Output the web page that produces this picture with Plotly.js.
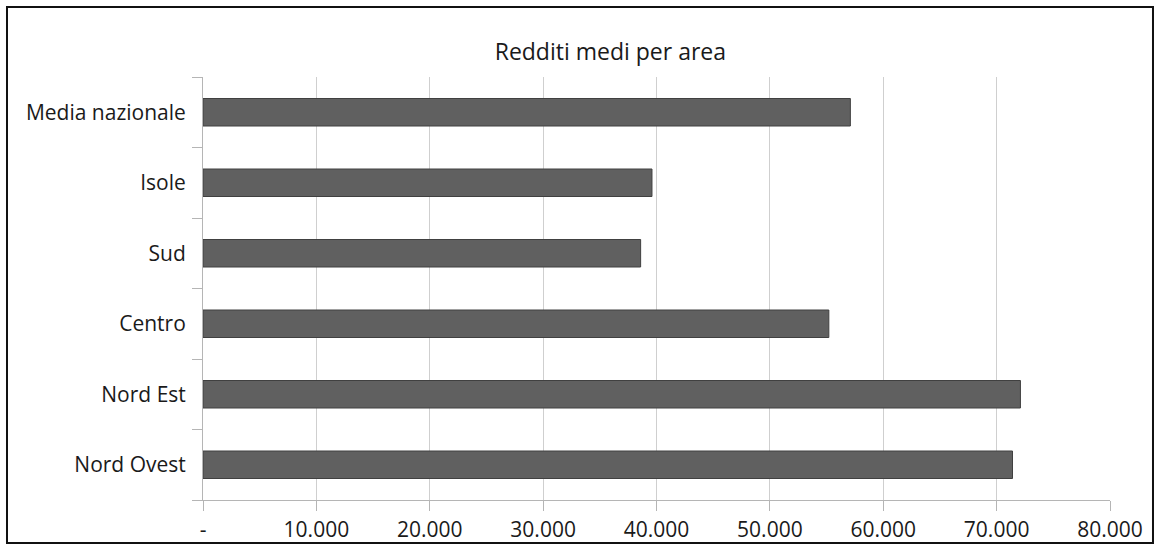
<!DOCTYPE html>
<html>
<head>
<meta charset="utf-8">
<script src="https://cdn.plot.ly/plotly-3.0.1.min.js"></script>
<style>html,body{margin:0;padding:0;background:#fff;}#chart{width:1156px;height:547px;}</style>
</head>
<body>
<div id="chart"></div>
<script>
const categories = ["Nord Ovest", "Nord Est", "Centro", "Sud", "Isole", "Media nazionale"];
const redditi = [71400, 72100, 55200, 38600, 39600, 57100];
const xTickVals = [0, 10000, 20000, 30000, 40000, 50000, 60000, 70000, 80000];
const xTickText = ["-", "10.000", "20.000", "30.000", "40.000", "50.000", "60.000", "70.000", "80.000"];
const chartTitle = "Redditi medi per area";

const FONT = "'Open Sans', Lato, sans-serif";

const trace = {
  type: "bar",
  orientation: "h",
  y: categories,
  x: redditi,
  marker: { color: "#606060", line: { color: "#404040", width: 1 } },
  hoverinfo: "x+y"
};

const layout = {
  width: 1156,
  height: 547,
  margin: { l: 203, r: 46, t: 77, b: 47 },
  paper_bgcolor: "#ffffff",
  plot_bgcolor: "#ffffff",
  showlegend: false,
  bargap: 0.61,
  font: { family: FONT, color: "#1a1a1a", size: 20 },
  title: {
    text: chartTitle,
    font: { family: FONT, size: 23, color: "#1a1a1a" },
    x: 0.528, xref: "container", xanchor: "center",
    y: 0.905, yref: "container", yanchor: "middle"
  },
  xaxis: {
    range: [0, 80000],
    tickvals: xTickVals,
    ticktext: xTickText,
    showgrid: true,
    gridcolor: "#cfcfcf",
    gridwidth: 1,
    zeroline: false,
    showline: true,
    linecolor: "#b5b5b5",
    linewidth: 1,
    ticks: "outside",
    ticklen: 10,
    tickcolor: "#b5b5b5",
    ticklabelstandoff: 1,
    tickfont: { family: FONT, size: 21, color: "#1a1a1a" },
    fixedrange: true
  },
  yaxis: {
    type: "category",
    categoryorder: "array",
    categoryarray: categories,
    showgrid: false,
    zeroline: false,
    showline: true,
    linecolor: "#b5b5b5",
    linewidth: 1,
    ticks: "outside",
    tickson: "boundaries",
    ticklen: 10,
    tickcolor: "#b5b5b5",
    ticklabelstandoff: 12,
    tickfont: { family: FONT, size: 21, color: "#1a1a1a" },
    fixedrange: true
  },
  shapes: [{
    type: "rect",
    xref: "paper", yref: "paper",
    x0: -0.2161, x1: 1.0474,
    y0: -0.1017, y1: 1.1655,
    line: { color: "#111111", width: 2 },
    fillcolor: "rgba(0,0,0,0)",
    layer: "above"
  }]
};

Plotly.newPlot("chart", [trace], layout, { displayModeBar: false, staticPlot: true });
</script>
</body>
</html>
